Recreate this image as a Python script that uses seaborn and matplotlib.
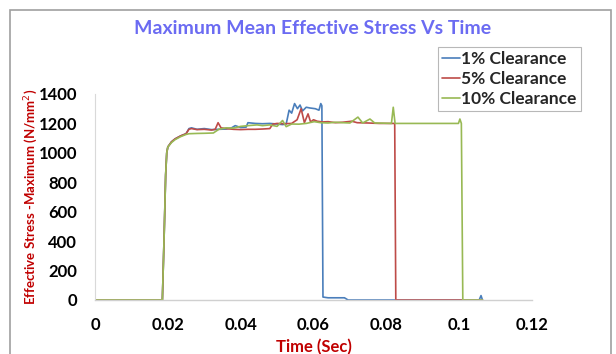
import matplotlib
matplotlib.use("Agg")
import matplotlib.pyplot as plt
import seaborn as sns
import pandas as pd
from matplotlib.patches import Rectangle

# ---- data ----
t_1 = [0, 0.0185, 0.0190, 0.0194, 0.0197, 0.0200, 0.0210, 0.0220, 0.0235, 0.0250, 0.0258,
       0.0265, 0.028, 0.030, 0.032, 0.034, 0.036, 0.0375, 0.0385, 0.040, 0.0415, 0.0420,
       0.044, 0.046, 0.048, 0.050, 0.0515, 0.0525, 0.0533, 0.0540, 0.0548, 0.0556, 0.0563,
       0.0570, 0.0580, 0.0590, 0.0605, 0.0615, 0.0620, 0.0623, 0.0626, 0.0640, 0.0665,
       0.0685, 0.0695, 0.0900, 0.1055, 0.1060, 0.1064]
v_1 = [0, 0, 450, 850, 1000, 1040, 1075, 1095, 1115, 1130, 1165,
       1170, 1160, 1165, 1158, 1160, 1162, 1170, 1185, 1172, 1175, 1205,
       1200, 1198, 1200, 1196, 1192, 1196, 1290, 1270, 1335, 1300, 1325,
       1285, 1310, 1305, 1300, 1290, 1335, 1320, 20, 15, 15,
       15, 0, 0, 0, 30, 0]

t_5 = [0, 0.0185, 0.0190, 0.0194, 0.0197, 0.0200, 0.0210, 0.0220, 0.0235, 0.0250, 0.0258,
       0.0265, 0.028, 0.030, 0.032, 0.0330, 0.0338, 0.0346, 0.036, 0.038, 0.040, 0.042,
       0.044, 0.046, 0.0480, 0.0488, 0.050, 0.052, 0.0540, 0.0555, 0.0566, 0.0575, 0.0585,
       0.0592, 0.0600, 0.0610, 0.0625, 0.064, 0.066, 0.068, 0.0705, 0.072, 0.075,
       0.078, 0.0815, 0.0823, 0.0826, 0.0900, 0.1064]
v_5 = [0, 0, 450, 850, 1000, 1040, 1075, 1095, 1115, 1130, 1160,
       1165, 1158, 1160, 1155, 1160, 1205, 1170, 1165, 1160, 1158, 1160,
       1160, 1162, 1165, 1195, 1200, 1198, 1200, 1225, 1300, 1205, 1265,
       1210, 1225, 1215, 1210, 1212, 1205, 1208, 1215, 1205, 1203,
       1200, 1200, 1200, 0, 0, 0]

t_10 = [0, 0.0185, 0.0190, 0.0194, 0.0197, 0.0200, 0.0210, 0.0220, 0.0235, 0.0250, 0.0258,
        0.028, 0.030, 0.0325, 0.034, 0.036, 0.038, 0.040, 0.042, 0.0445, 0.046, 0.0480,
        0.0500, 0.0515, 0.0525, 0.054, 0.056, 0.058, 0.0602, 0.062, 0.064, 0.066, 0.068,
        0.070, 0.0722, 0.0735, 0.0755, 0.0768, 0.079, 0.0814, 0.0819, 0.0824, 0.090,
        0.0998, 0.1002, 0.1006, 0.1010, 0.1064]
v_10 = [0, 0, 450, 850, 1000, 1040, 1070, 1090, 1110, 1125, 1130,
        1132, 1133, 1135, 1160, 1170, 1168, 1180, 1185, 1190, 1185, 1190,
        1180, 1220, 1178, 1196, 1195, 1200, 1212, 1205, 1203, 1208, 1205,
        1203, 1243, 1203, 1230, 1203, 1202, 1200, 1310, 1200, 1200,
        1200, 1230, 1200, 0, 0]

series = ["1% Clearance", "5% Clearance", "10% Clearance"]
colors = ["#4A7EBB", "#BE4B48", "#98B954"]

frames = []
for name, tt, vv in zip(series, [t_1, t_5, t_10], [v_1, v_5, v_10]):
    frames.append(pd.DataFrame({"Time": tt, "Stress": vv, "Series": name}))
df = pd.concat(frames, ignore_index=True)

sns.set_theme(style="white")
plt.rcParams["font.family"] = ["Lato", "DejaVu Sans"]

fig = plt.figure(figsize=(6.16, 3.54), dpi=100)
ax = fig.add_axes([95 / 616, 1 - 300 / 354, 437 / 616, 206 / 354])

sns.lineplot(data=df, x="Time", y="Stress", hue="Series", hue_order=series,
             palette=colors, estimator=None, sort=False, units="Series",
             linewidth=1.2, ax=ax, legend=True)

ax.set_xlim(0, 0.12)
ax.set_ylim(0, 1400)
ax.set_xticks([0, 0.02, 0.04, 0.06, 0.08, 0.1, 0.12])
ax.set_xticklabels(["0", "0.02", "0.04", "0.06", "0.08", "0.1", "0.12"])
ax.set_yticks(range(0, 1401, 200))
ax.tick_params(axis="both", labelsize=12, length=0, colors="black")
for lab in ax.get_xticklabels() + ax.get_yticklabels():
    lab.set_fontweight("bold")
ax.tick_params(axis="x", pad=12)
ax.tick_params(axis="y", pad=13)

for s in ["top", "right"]:
    ax.spines[s].set_visible(False)
ax.spines["left"].set_color("#D9D9D9")
ax.spines["bottom"].set_color("#D0D0D0")
ax.spines["left"].set_linewidth(0.8)
ax.spines["bottom"].set_linewidth(1.0)

ax.set_xlabel("Time (Sec)", color="#C00000", fontweight="bold", fontsize=12)
ax.set_ylabel("Effective Stress -Maximum (N/mm$^{2}$)", color="#C00000",
              fontweight="bold", fontsize=9.5)
ax.xaxis.set_label_coords(0.5, -0.19)
ax.yaxis.set_label_coords(-0.127, 0.5)

fig.text(313 / 616, 1 - 28 / 354, "Maximum Mean Effective Stress Vs Time",
         ha="center", va="center", fontsize=14, fontweight="bold", color="#6B6BF2")

leg = ax.legend(loc="upper left", bbox_to_anchor=((438 - 95) / 437, (300 - 47) / 206),
                frameon=True, fancybox=False, fontsize=12.5, handlelength=1.0,
                handletextpad=0.1, labelspacing=0.22, borderpad=0.25, borderaxespad=0)
leg.get_frame().set_edgecolor("#A6A6A6")
leg.get_frame().set_linewidth(0.8)
for txt in leg.get_texts():
    txt.set_fontweight("bold")

fig.patches.append(Rectangle((10 / 616, -0.05), 601 / 616, 1.05 - 10 / 354,
                             transform=fig.transFigure, fill=False,
                             edgecolor="#A0A0A0", linewidth=1.2))

fig.savefig("out.png", dpi=100)
